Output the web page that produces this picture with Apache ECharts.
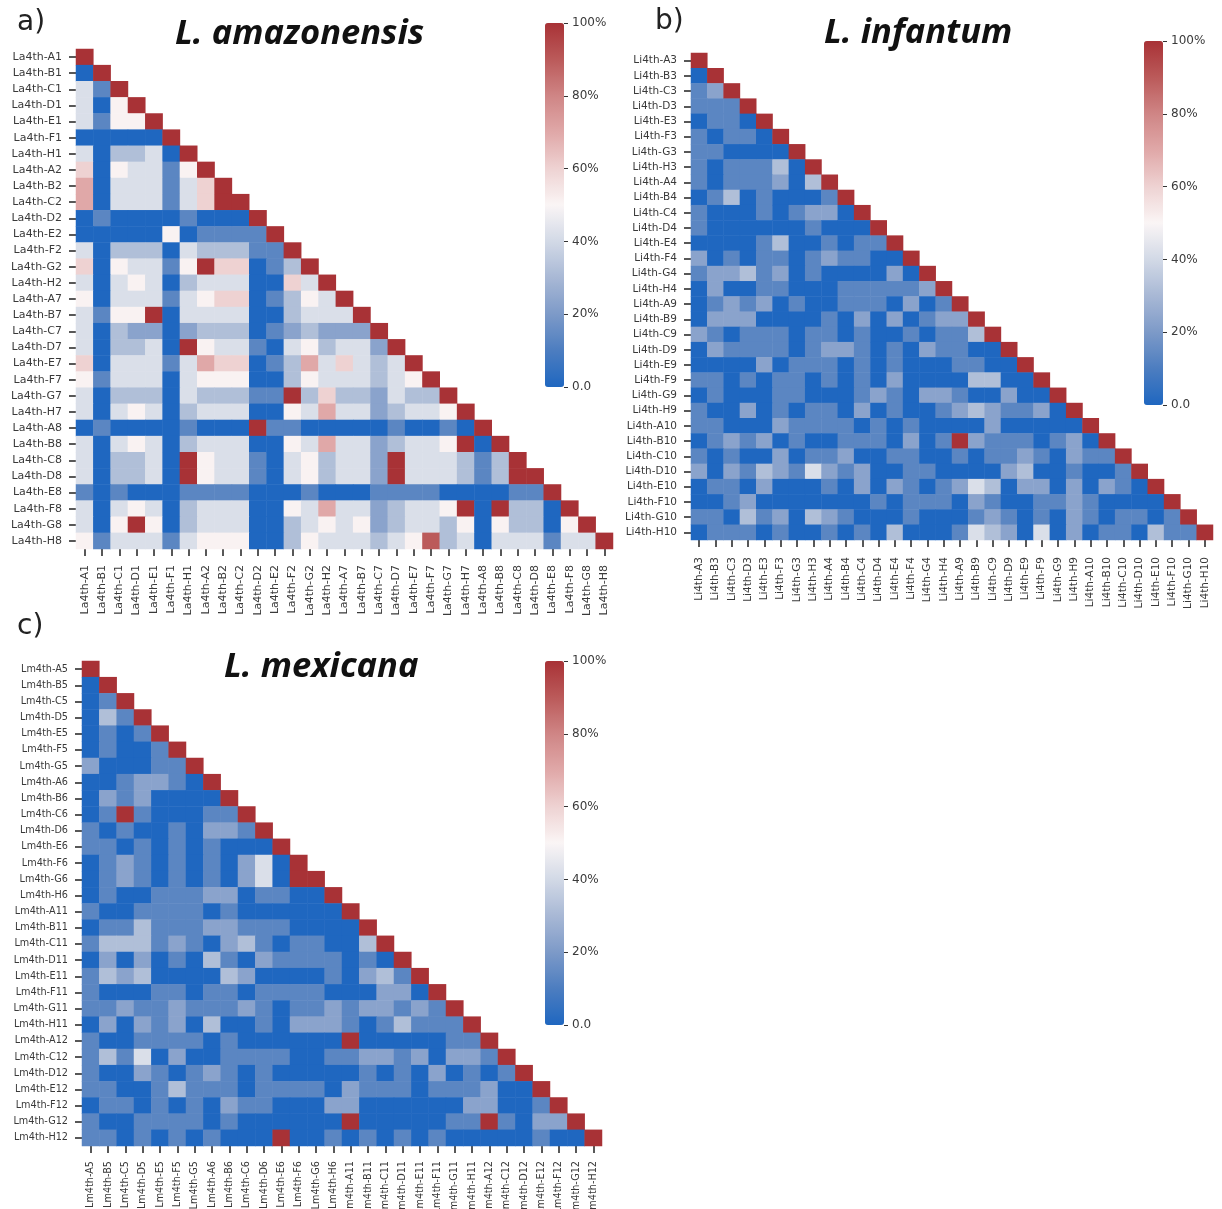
<!DOCTYPE html>
<html><head><meta charset="utf-8">
<style>html,body{margin:0;padding:0;background:#fff}#c{width:1222px;height:1209px;filter:blur(0.5px)}</style>
<script src="https://cdn.jsdelivr.net/npm/echarts@6/dist/echarts.min.js"></script>
</head><body><div id="c"></div>
<script>
// shade code in a row string -> percent
const levelPercent = [0, 13, 23, 32, 42, 51, 60, 70, 90, 100];

const amazonensisLabels = ["A1","B1","C1","D1","E1","F1","H1","A2","B2","C2","D2","E2","F2","G2","H2","A7","B7","C7","D7","E7","F7","G7","H7","A8","B8","C8","D8","E8","F8","G8","H8"].map(s => "La4th-" + s);
const amazonensisRows = [
"9","09","419","4059","41559","000009","4033409","60544159","704441469","7044414699",
"01000010009","000005011119","4033304333119","60544159660139","404540344400649",
"5044414566013549","41559044440034449","403220233301232229","4033409544104534429",
"60444147660137464349","514440455500354443459","4033304333119363324339",
"40454034440054744234459","010000100091100000100109","4045403444005474423445909",
"40334095441045344294443139","403340954410453442944431399","1010001111000100011110000119",
"40454034440054744234459093309","405950344400345452344350533059","5144414555003544434583404441449"];

const infantumLabels = ["A3","B3","C3","D3","E3","F3","G3","H3","A4","B4","C4","D4","E4","F4","G4","H4","A9","B9","C9","D9","E9","F9","G9","H9","A10","B10","C10","D10","E10","F10","G10","H10"].map(s => "Li4th-" + s);
const infantumRows = [
"9","09","129","1119","01109","101109","1100009","10111309","101112039","0130100019",
"10001012209","100000010009","0000130010119","20101101211009","122312010000209",
"0200110001111129","01212010011102019","022200001020201229",
"2101110110100101139","02111101221010211009","000020111010100011009",
"1101011010102000033009","01000110001210221002009","100201011020100123211209",
"1100021111010100002000009","01212010011102019211101209",
"101002011200110010112102119","2021321421200110000230010019",
"01102000102021012430220202109","001200000001011102100112100009",
"1103120321000100012101021011019","01110100101030001432040201103119"];

const mexicanaLabels = ["A5","B5","C5","D5","E5","F5","G5","A6","B6","C6","D6","E6","F6","G6","H6","A11","B11","C11","D11","E11","F11","G11","H11","A12","C12","D12","E12","F12","G12","H12"].map(s => "Lm4th-" + s);
const mexicanaRows = [
"9","09","019","0319","01019","010019","2000119","00122109","021200009","0191000119",
"10100102219","110101010009","0121010102409","01210101024099","010011122011009",
"1001111010000009","01131112211100009","133312102310110039","0202010310211110109",
"13230000320000102319","100011011011110002209","1121121112101121221219",
"02021203001022210131119","100111101000000900000119","1314020011110011221202219",
"10021012101000001010201019","110013111011110211101112009","0110101021100022000000220019",
"10011110100000090000011910229","110101010009001010101000001009"];

const colorbarTicks = [0, 20, 40, 60, 80, 100];
const rampColors = ['#1f67c0','#4c7dc0','#7d9ac8','#a8b8d5','#d2d9e6','#faf5f5','#eed2d2','#e0a8a8','#cf8585','#bb5a5a','#a83236'];

function cells(rows) {
  const out = [];
  rows.forEach((r, y) => { for (let x = 0; x < r.length; x++) out.push([x, y, levelPercent[+r[x]]]); });
  return out;
}
const panels = [
  {labels: amazonensisLabels, rows: amazonensisRows, grid: {left: 76, top: 49, width: 537, height: 500}, font: 11, xMargin: 16, bar: {left: 545, top: 23}},
  {labels: infantumLabels, rows: infantumRows, grid: {left: 691, top: 53, width: 522, height: 487}, font: 10.5, xMargin: 17, bar: {left: 1144, top: 41}},
  {labels: mexicanaLabels, rows: mexicanaRows, grid: {left: 82, top: 661, width: 520, height: 485}, font: 9.7, xMargin: 15, bar: {left: 545, top: 661}}
];
const BAR_W = 19, BAR_H = 364;
const txt = '#3a3a3a', font = '"DejaVu Sans"';
const grids = [], xAxes = [], yAxes = [], series = [], vms = [];
panels.forEach((p, i) => {
  grids.push(Object.assign({outerBoundsMode: 'none', containLabel: false}, p.grid));
  xAxes.push({type: 'category', gridIndex: i, data: p.labels, position: 'bottom',
    axisLine: {show: false}, splitLine: {show: false}, splitArea: {show: false},
    axisTick: {show: true, alignWithLabel: true, length: 7, lineStyle: {color: '#222', width: 1.5}},
    axisLabel: {interval: 0, rotate: 90, margin: p.xMargin, hideOverlap: false, fontFamily: font, fontSize: p.font, color: txt}});
  yAxes.push({type: 'category', gridIndex: i, data: p.labels, inverse: true,
    axisLine: {show: false}, splitLine: {show: false}, splitArea: {show: false},
    axisTick: {show: true, alignWithLabel: true, length: 7, lineStyle: {color: '#222', width: 1.5}},
    axisLabel: {interval: 0, margin: 14, hideOverlap: false, fontFamily: font, fontSize: p.font, color: txt}});
  series.push({type: 'heatmap', xAxisIndex: i, yAxisIndex: i, data: cells(p.rows), progressive: 0, animation: false,
    itemStyle: {borderWidth: 0}, emphasis: {disabled: true}});
  vms.push({type: 'continuous', seriesIndex: i, min: 0, max: 100, calculable: false, realtime: false, hoverLink: false,
    orient: 'vertical', left: p.bar.left, top: p.bar.top, itemWidth: BAR_W, itemHeight: BAR_H, padding: 0, text: null, showLabel: false,
    inRange: {color: rampColors}});
});
panels.forEach((p, i) => {
  const g = grids.length;
  grids.push({outerBoundsMode: 'none', left: p.bar.left, top: p.bar.top, width: BAR_W, height: BAR_H});
  xAxes.push({type: 'category', gridIndex: g, show: false, data: ['']});
  yAxes.push({type: 'value', gridIndex: g, position: 'right', min: colorbarTicks[0], max: colorbarTicks[5], interval: 20,
    splitLine: {show: false}, axisLine: {show: false},
    axisTick: {show: true, length: 4, lineStyle: {color: '#333'}},
    axisLabel: {margin: 8, fontFamily: '"DejaVu Sans"', fontSize: 12, color: txt, formatter: v => v === 0 ? '0.0' : v + '%'}});
});
const head = {fontFamily: '"Noto Sans"', fontWeight: 'bold', fontStyle: 'italic', fontSize: 34.5, color: '#111'};
const tag = {fontFamily: '"DejaVu Sans"', fontWeight: 'normal', fontSize: 28, color: '#222'};
const chart = echarts.init(document.getElementById('c'), null, {renderer: 'canvas'});
chart.setOption({
  animation: false, backgroundColor: '#fff', tooltip: {show: false},
  title: [
    {text: 'a)', left: 17, top: 9, padding: 0, textStyle: tag},
    {text: 'b)', left: 655, top: 8, padding: 0, textStyle: tag},
    {text: 'c)', left: 17, top: 613, padding: 0, textStyle: tag},
    {text: 'L. amazonensis', left: 175, top: 17, padding: 0, textStyle: head},
    {text: 'L. infantum', left: 824, top: 16, padding: 0, textStyle: head},
    {text: 'L. mexicana', left: 224, top: 650, padding: 0, textStyle: head}
  ],
  grid: grids, xAxis: xAxes, yAxis: yAxes, series: series, visualMap: vms
});
</script></body></html>
